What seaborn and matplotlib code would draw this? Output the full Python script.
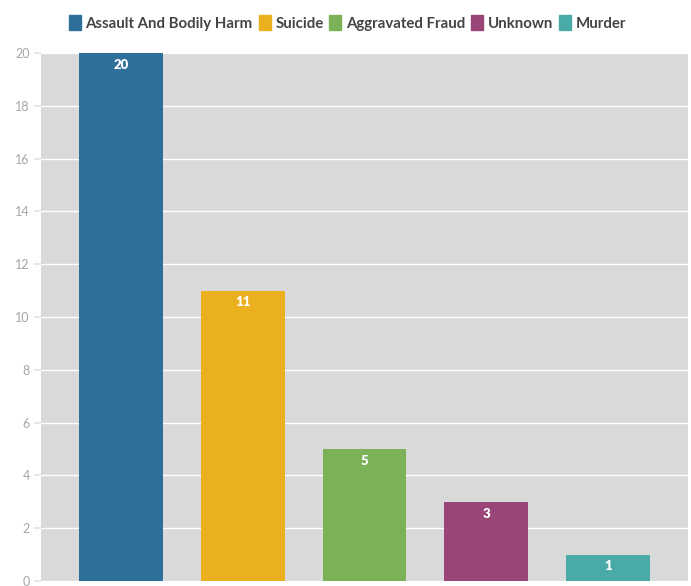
import pandas as pd
import seaborn as sns
import matplotlib.pyplot as plt

categories = ["Assault And Bodily Harm", "Suicide", "Aggravated Fraud", "Unknown", "Murder"]
counts = [20, 11, 5, 3, 1]
colors = ["#2e6f9a", "#ebb01e", "#7bb257", "#9a4577", "#4aaaa7"]
y_ticks = [0, 2, 4, 6, 8, 10, 12, 14, 16, 18, 20]

df = pd.DataFrame({"category": categories, "count": counts})

sns.set_theme(style="white")
plt.rcParams["font.family"] = ["Lato", "DejaVu Sans"]

fig = plt.figure(figsize=(6.91, 5.86), dpi=100)
ax = fig.add_axes([41 / 691, 5 / 586, 647 / 691, 528 / 586])
ax.set_facecolor("#d9d9d9")

sns.barplot(data=df, x="category", y="count", hue="category", palette=colors,
            width=0.69, dodge=False, legend=False, ax=ax, saturation=1)

# value labels inside the top of each bar
for bar, v in zip(ax.patches, counts):
    bar.set_edgecolor("none")
    ax.text(bar.get_x() + bar.get_width() / 2, v - 0.45, str(v), ha="center", va="center",
            color="white", fontsize=9.5, fontweight="heavy")

ax.set_xlim(-0.66, 4.66)
ax.set_ylim(0, 20)
ax.set_yticks(y_ticks)
ax.set_yticklabels([str(t) for t in y_ticks], color="#a6a6a6", fontsize=9)
ax.tick_params(axis="y", length=5, color="#e6e6e6", pad=3, left=True)
ax.set_xticks([])
ax.set_xlabel("")
ax.set_ylabel("")
ax.yaxis.grid(True, color="white", linewidth=1)
ax.set_axisbelow(True)
for s in ax.spines.values():
    s.set_visible(False)

handles = [plt.Rectangle((0, 0), 1, 1, color=c) for c in colors]
leg = fig.legend(handles, categories, loc="upper center", bbox_to_anchor=(0.503, 0.997), ncol=5,
                 frameon=False, handlelength=0.8, handleheight=1.1, handletextpad=0.3,
                 columnspacing=0.4, prop={"weight": "bold", "size": 10.8})
for t in leg.get_texts():
    t.set_color("#444444")

fig.savefig("out.png", dpi=100)
